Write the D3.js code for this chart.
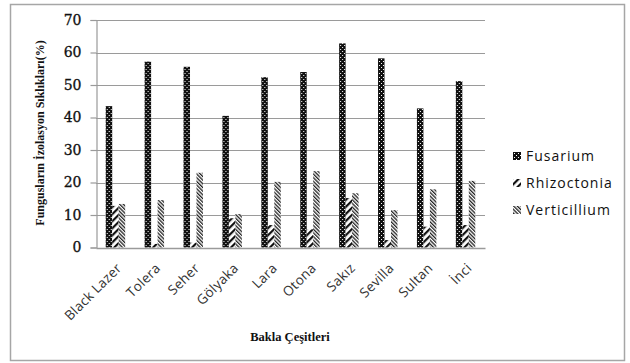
<!DOCTYPE html>
<html>
<head>
<meta charset="utf-8">
<script src="https://cdn.jsdelivr.net/npm/d3@7"></script>
<style>
  body { margin: 0; background: #fff; }
  svg { display: block; }
</style>
</head>
<body>
<div id="chart"></div>
<script>
var categories = ["Black Lazer", "Tolera", "Seher", "Gölyaka", "Lara", "Otona", "Sakız", "Sevilla", "Sultan", "İnci"];
var seriesNames = ["Fusarium", "Rhizoctonia", "Verticillium"];
var fusarium = [43.5, 57.2, 55.6, 40.5, 52.4, 54.0, 62.8, 58.2, 42.8, 51.2];
var rhizoctonia = [12.8, 1.1, 1.5, 9.0, 6.9, 5.6, 15.2, 2.3, 6.4, 6.9];
var verticillium = [13.4, 14.6, 23.0, 10.3, 20.2, 23.5, 16.7, 11.5, 17.9, 20.5];
var yTicks = [0, 10, 20, 30, 40, 50, 60, 70];

var w = 630, h = 363;
var plotLeft = 96, plotRight = 485, plotTop = 20, plotBottom = 247.5;

var svg = d3.select("#chart").append("svg")
  .attr("width", w)
  .attr("height", h);

// fill patterns
var defs = svg.append("defs");

var pFus = defs.append("pattern")
  .attr("id", "pat-fus")
  .attr("patternUnits", "userSpaceOnUse")
  .attr("width", 4).attr("height", 4);
pFus.append("rect").attr("width", 4).attr("height", 4).attr("fill", "#111");
pFus.append("rect").attr("x", 1).attr("y", 1).attr("width", 1).attr("height", 1).attr("fill", "#fff");
pFus.append("rect").attr("x", 3).attr("y", 3).attr("width", 1).attr("height", 1).attr("fill", "#fff");

var pRhi = defs.append("pattern")
  .attr("id", "pat-rhi")
  .attr("patternUnits", "userSpaceOnUse")
  .attr("width", 5).attr("height", 5)
  .attr("patternTransform", "rotate(45)");
pRhi.append("rect").attr("width", 5).attr("height", 5).attr("fill", "#fff");
pRhi.append("rect").attr("width", 2.2).attr("height", 5).attr("fill", "#111");

var pVer = defs.append("pattern")
  .attr("id", "pat-ver")
  .attr("patternUnits", "userSpaceOnUse")
  .attr("width", 2.6).attr("height", 2.6)
  .attr("patternTransform", "rotate(-45)");
pVer.append("rect").attr("width", 2.6).attr("height", 2.6).attr("fill", "#fff");
pVer.append("rect").attr("width", 1.3).attr("height", 2.6).attr("fill", "#222");

var fills = ["url(#pat-fus)", "url(#pat-rhi)", "url(#pat-ver)"];

// outer frame
svg.append("rect")
  .attr("x", 10.5).attr("y", 4.5)
  .attr("width", 614).attr("height", 356)
  .attr("fill", "none")
  .attr("stroke", "#a6a6a6")
  .attr("stroke-width", 1.5);

var xScale = d3.scaleBand()
  .domain(categories)
  .range([plotLeft, plotRight])
  .paddingInner(0.5)
  .paddingOuter(0.25);

var xSub = d3.scaleBand()
  .domain(seriesNames)
  .range([0, xScale.bandwidth()]);

var yScale = d3.scaleLinear()
  .domain([0, 70])
  .range([plotBottom, plotTop]);

// gridlines
svg.append("g")
  .selectAll("line")
  .data(yTicks.filter(function(d) { return d > 0; }))
  .enter().append("line")
  .attr("x1", plotLeft).attr("x2", plotRight)
  .attr("y1", function(d) { return Math.round(yScale(d)) + 0.5; })
  .attr("y2", function(d) { return Math.round(yScale(d)) + 0.5; })
  .attr("stroke", "#9a9a9a")
  .attr("stroke-width", 1.2);

// y axis
var yAxis = d3.axisLeft(yScale).tickValues(yTicks).tickSize(6).tickPadding(9);
var gy = svg.append("g")
  .attr("transform", "translate(" + (plotLeft + 0.5) + ",0)")
  .call(yAxis);
gy.select(".domain").attr("stroke", "#9a9a9a").attr("stroke-width", 1.2);
gy.selectAll(".tick line").attr("stroke", "#9a9a9a").attr("stroke-width", 1.2);
gy.selectAll(".tick text")
  .attr("font-family", "'DejaVu Serif', serif")
  .attr("font-size", 14)
  .attr("fill", "#111")
  .attr("stroke", "#111")
  .attr("stroke-width", 0.3);

// bars
var data = categories.map(function(c, i) {
  return { cat: c, values: [fusarium[i], rhizoctonia[i], verticillium[i]] };
});

var groups = svg.append("g").selectAll("g")
  .data(data)
  .enter().append("g")
  .attr("transform", function(d) { return "translate(" + xScale(d.cat) + ",0)"; });

groups.selectAll("rect")
  .data(function(d) { return d.values.map(function(v, j) { return { name: seriesNames[j], v: v, j: j }; }); })
  .enter().append("rect")
  .attr("x", function(d) { return xSub(d.name); })
  .attr("width", xSub.bandwidth())
  .attr("y", function(d) { return yScale(d.v); })
  .attr("height", function(d) { return plotBottom - yScale(d.v); })
  .attr("fill", function(d) { return fills[d.j]; });

// x axis
var xAxis = d3.axisBottom(xScale).tickSize(0).tickPadding(0);
var gx = svg.append("g")
  .attr("transform", "translate(0," + (plotBottom + 0.5) + ")")
  .call(xAxis);
gx.select(".domain").attr("stroke", "#9a9a9a").attr("stroke-width", 1.5);
gx.selectAll(".tick text")
  .attr("font-family", "'Open Sans', sans-serif")
  .attr("font-size", 13.5)
  .attr("letter-spacing", 0.3)
  .attr("fill", "#333")
  .attr("text-anchor", "end")
  .attr("dy", 0)
  .attr("transform", "translate(7,21) rotate(-45)");

// axis titles
svg.append("text")
  .attr("transform", "translate(44,133) rotate(-90)")
  .attr("text-anchor", "middle")
  .attr("font-family", "'Liberation Serif', serif")
  .attr("font-weight", "bold")
  .attr("font-size", 12)
  .attr("fill", "#111")
  .text("Fungusların İzolasyon Sıklıkları(%)");

svg.append("text")
  .attr("x", 290).attr("y", 341)
  .attr("text-anchor", "middle")
  .attr("font-family", "'Liberation Serif', serif")
  .attr("font-weight", "bold")
  .attr("font-size", 12.5)
  .attr("fill", "#111")
  .text("Bakla Çeşitleri");

// legend
var legend = svg.append("g").selectAll("g")
  .data(seriesNames)
  .enter().append("g")
  .attr("transform", function(d, i) { return "translate(513," + (156 + i * 27) + ")"; });

legend.append("rect")
  .attr("x", 0).attr("y", -4)
  .attr("width", 8).attr("height", 8)
  .attr("fill", function(d, i) { return fills[i]; });

legend.append("text")
  .attr("x", 13).attr("y", 0)
  .attr("dy", "0.35em")
  .attr("font-family", "'Open Sans', sans-serif")
  .attr("font-size", 14)
  .attr("letter-spacing", 1)
  .attr("fill", "#111")
  .text(function(d) { return d; });
</script>
</body>
</html>
